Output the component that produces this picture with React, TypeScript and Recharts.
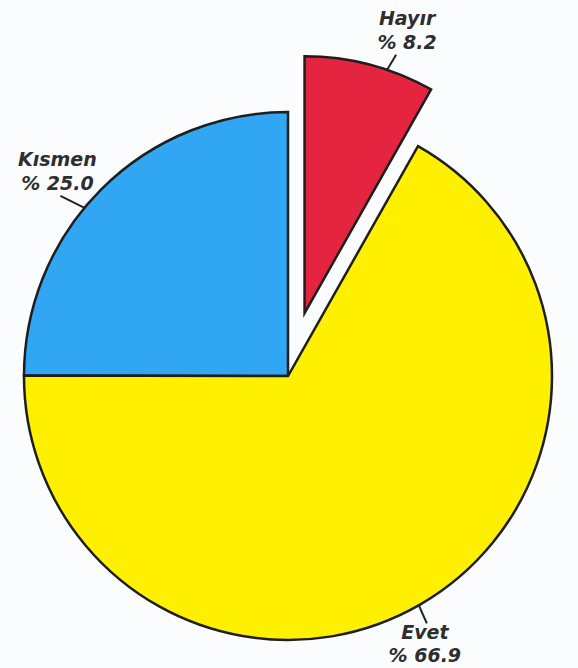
import { Cell, Pie, PieChart } from "recharts";

const categories = ["Kısmen", "Evet", "Hayır"];
const shares = [25.0, 66.9, 8.2];
const shareLabels = ["% 25.0", "% 66.9", "% 8.2"];
const colors = ["#31a6f2", "#fff000", "#e5253f"];

const exploded = "Hayır";

// where each callout sits: nudge of the anchor angle, leader vector, text offset from leader end
const labelLayout: Record<string, { shift: number; lx: number; ly: number; tx: number; up: boolean }> = {
  "Kısmen": { shift: 5.5, lx: -24, ly: -12, tx: -3, up: true },
  "Hayır": { shift: -4, lx: 9, ly: -15, tx: 11, up: true },
  "Evet": { shift: -0.5, lx: 8, ly: 18, tx: -2, up: false }
};

const data = categories.map((name, i) => ({ name, value: shares[i], text: shareLabels[i] }));

const RADIAN = Math.PI / 180;
const CX = 288;
const CY = 376;
const R = 264;
const R_PULLED = 257;
const PULL = 65;

const font = {
  fill: "#2e2e2e",
  fontFamily: "DejaVu Sans, Verdana, sans-serif",
  fontWeight: "bold" as const,
  fontStyle: "italic" as const,
  fontSize: 19
};

function makeLabel(showExploded: boolean) {
  return function renderLabel(props: any) {
    const { cx, cy, midAngle, outerRadius, name, payload } = props;
    if ((name === exploded) !== showExploded) return null;
    const lay = labelLayout[name];
    const a = -(midAngle + lay.shift) * RADIAN;
    const sx = cx + outerRadius * Math.cos(a);
    const sy = cy + outerRadius * Math.sin(a);
    const ex = sx + lay.lx;
    const ey = sy + lay.ly;
    const y1 = lay.up ? ey - 30 : ey + 16;
    const y2 = lay.up ? ey - 6 : ey + 39;
    return (
      <g>
        <line x1={sx} y1={sy} x2={ex} y2={ey} stroke="#222" strokeWidth={2} />
        <text x={ex + lay.tx} y={y1} textAnchor="middle" {...font}>
          {name}
        </text>
        <text x={ex + lay.tx} y={y2} textAnchor="middle" {...font}>
          {payload.text}
        </text>
      </g>
    );
  };
}

// bisector of the pulled slice, so the second pie can be shifted out along it
const explodedIndex = categories.indexOf(exploded);
const before = shares.slice(0, explodedIndex).reduce((a, b) => a + b, 0);
const total = shares.reduce((a, b) => a + b, 0);
const mid = 90 + ((before + shares[explodedIndex] / 2) / total) * 360;
const dx = PULL * Math.cos(mid * RADIAN);
const dy = -PULL * Math.sin(mid * RADIAN);

export default function App() {
  return (
    <div
      style={{
        position: "absolute",
        left: 0,
        top: 0,
        width: 578,
        height: 668,
        background: "#fbfcfd",
        overflow: "hidden"
      }}
    >
      <PieChart width={578} height={668} margin={{ top: 0, right: 0, bottom: 0, left: 0 }}>
        <Pie
          data={data}
          dataKey="value"
          nameKey="name"
          cx={CX}
          cy={CY}
          outerRadius={R}
          startAngle={90}
          endAngle={450}
          stroke="#1e1e1e"
          strokeWidth={2.5}
          labelLine={false}
          label={makeLabel(false)}
          isAnimationActive={false}
        >
          {data.map((d, i) =>
            d.name === exploded ? (
              <Cell key={d.name} fill="none" stroke="none" />
            ) : (
              <Cell key={d.name} fill={colors[i]} />
            )
          )}
        </Pie>
        <Pie
          data={data}
          dataKey="value"
          nameKey="name"
          cx={CX + dx}
          cy={CY + dy}
          outerRadius={R_PULLED}
          startAngle={90}
          endAngle={450}
          stroke="#1e1e1e"
          strokeWidth={2.5}
          labelLine={false}
          label={makeLabel(true)}
          isAnimationActive={false}
        >
          {data.map((d, i) =>
            d.name === exploded ? (
              <Cell key={d.name} fill={colors[i]} />
            ) : (
              <Cell key={d.name} fill="none" stroke="none" />
            )
          )}
        </Pie>
      </PieChart>
    </div>
  );
}
